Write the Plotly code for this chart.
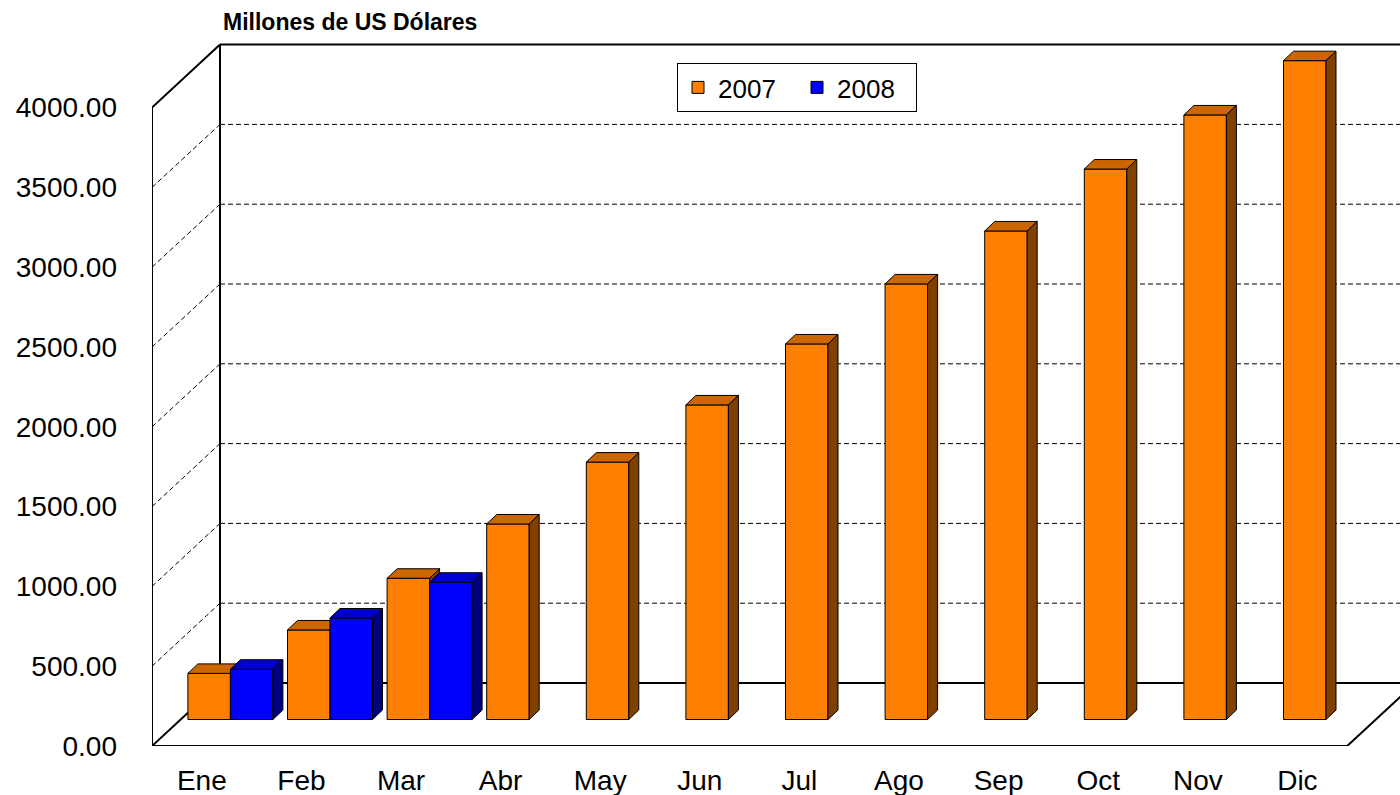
import plotly.graph_objects as go

# ---------------- data ----------------
months = ["Ene", "Feb", "Mar", "Abr", "May", "Jun", "Jul", "Ago", "Sep", "Oct", "Nov", "Dic"]
v2007 = [289, 561, 885, 1225, 1613, 1971, 2353, 2729, 3061, 3449, 3788, 4128]
v2008 = [315, 636, 860]
series_names = ["2007", "2008"]
y_ticks = [0, 500, 1000, 1500, 2000, 2500, 3000, 3500, 4000]
y_ticktext = [f"{v:.2f}" for v in y_ticks]
y_title = "Millones de US Dólares"

# ---------------- geometry (pseudo-3D, oblique projection) ----------------
W, H = 1400, 795
L, B = 152, 49
PX_X = 99.6          # pixels per category
PX_Y = 0.1596        # pixels per value unit
plot_w = W - L
plot_h = H - B
x_range = [-0.5, -0.5 + plot_w / PX_X]
y_range = [0, plot_h / PX_Y]

DX, DY = 68 / PX_X, 63 / PX_Y          # full depth of the floor / walls
BX, BY = 28.6 / PX_X, 26.5 / PX_Y      # plane of the bars' front faces
BW = 42.5 / PX_X                       # bar width
SDX, SDY = 10 / PX_X, 9.5 / PX_Y       # bar depth
YMAX = y_ticks[-1]
n = len(months)

col = {
    "2007": ("#FF8000", "#CC6600", "#804000"),
    "2008": ("#0000FF", "#0000CC", "#000080"),
}


def faces(lefts, values, clip_tops=None):
    tx, ty, sx, sy = [], [], [], []
    for k, (xl, v) in enumerate(zip(lefts, values)):
        xr = xl + BW
        t = BY + v
        tx += [xl, xr, xr + SDX, xl + SDX, xl, None]
        ty += [t, t, t + SDY, t + SDY, t, None]
        low = BY
        if clip_tops is not None and k < len(clip_tops) and clip_tops[k] is not None:
            low = BY + clip_tops[k]
            if low >= t:
                continue
        sx += [xr, xr, xr + SDX, xr + SDX, xr, None]
        sy += [low, t, t + SDY, low + SDY, low, None]
    return tx, ty, sx, sy


fig = go.Figure()

# 2007 bars (front faces) on base axes
left07 = [i + BX - BW for i in range(n)]
fig.add_trace(go.Bar(
    x=[xl + BW / 2 for xl in left07], y=v2007, base=BY, width=BW,
    name=series_names[0], marker=dict(color=col["2007"][0], line=dict(color="black", width=1)),
    xaxis="x", yaxis="y"))
tx, ty, sx, sy = faces(left07, v2007, clip_tops=v2008)
fig.add_trace(go.Scatter(x=tx, y=ty, fill="toself", fillcolor=col["2007"][1], mode="lines",
                         line=dict(color="black", width=1), showlegend=False, hoverinfo="skip"))
fig.add_trace(go.Scatter(x=sx, y=sy, fill="toself", fillcolor=col["2007"][2], mode="lines",
                         line=dict(color="black", width=1), showlegend=False, hoverinfo="skip"))

# 2008 bars on overlaying axes (drawn in front)
left08 = [i + BX for i in range(len(v2008))]
fig.add_trace(go.Bar(
    x=[xl + BW / 2 for xl in left08], y=v2008, base=BY, width=BW,
    name=series_names[1], marker=dict(color=col["2008"][0], line=dict(color="black", width=1)),
    xaxis="x2", yaxis="y2"))
tx, ty, sx, sy = faces(left08, v2008)
fig.add_trace(go.Scatter(x=tx, y=ty, fill="toself", fillcolor=col["2008"][1], mode="lines",
                         line=dict(color="black", width=1), showlegend=False, hoverinfo="skip",
                         xaxis="x2", yaxis="y2"))
fig.add_trace(go.Scatter(x=sx, y=sy, fill="toself", fillcolor=col["2008"][2], mode="lines",
                         line=dict(color="black", width=1), showlegend=False, hoverinfo="skip",
                         xaxis="x2", yaxis="y2"))

# ---------------- walls, floor, gridlines ----------------
shapes = []
solid = dict(color="black", width=2)
dash = dict(color="black", width=1, dash="5px,3px")
xl0, xr0 = -0.5, n - 0.5
xend = x_range[1]


def seg(x0, y0, x1, y1, line):
    shapes.append(dict(type="line", xref="x", yref="y", x0=x0, y0=y0, x1=x1, y1=y1,
                       line=line, layer="below"))


for v in y_ticks[1:-1]:
    seg(xl0 + DX, v + DY, xend, v + DY, dash)          # back wall
    seg(xl0, v, xl0 + DX, v + DY, dash)                 # side wall
seg(xl0, 0, xl0, YMAX, solid)
seg(xl0, YMAX, xl0 + DX, YMAX + DY, solid)
seg(xl0, 0, xl0 + DX, DY, solid)
seg(xl0 + DX, DY, xl0 + DX, YMAX + DY, solid)
seg(xl0 + DX, YMAX + DY, xend, YMAX + DY, solid)
seg(xl0 + DX, DY, xend, DY, solid)
seg(xl0, 0, xr0, 0, solid)
seg(xr0, 0, xr0 + DX, DY, solid)

font_family = "Liberation Sans, Arial, sans-serif"

fig.update_layout(
    width=W, height=H, autosize=False,
    margin=dict(l=L, r=0, t=0, b=B),
    paper_bgcolor="white", plot_bgcolor="white",
    barmode="overlay",
    shapes=shapes,
    font=dict(family=font_family, color="black"),
    xaxis=dict(range=x_range, tickmode="array", tickvals=list(range(n)), ticktext=months,
               showgrid=False, zeroline=False, showline=False, ticks="",
               tickfont=dict(size=28), ticklabelstandoff=15, fixedrange=True),
    yaxis=dict(range=y_range, tickmode="array", tickvals=y_ticks, ticktext=y_ticktext,
               showgrid=False, zeroline=False, showline=False, ticks="",
               tickfont=dict(size=28), ticklabelstandoff=34, fixedrange=True),
    xaxis2=dict(range=x_range, overlaying="x", anchor="y2", visible=False),
    yaxis2=dict(range=y_range, overlaying="y", anchor="x2", visible=False),
    legend=dict(orientation="h", x=(677 - L) / plot_w, y=(plot_h - 63) / plot_h,
                xanchor="left", yanchor="top", bgcolor="white",
                bordercolor="black", borderwidth=1, font=dict(size=26),
                entrywidth=74, entrywidthmode="pixels",
                itemclick=False),
    annotations=[dict(text="<b>" + y_title + "</b>", xref="paper", yref="paper",
                      x=(221 - L) / plot_w, y=(plot_h - 22.5) / plot_h,
                      xanchor="left", yanchor="middle", showarrow=False,
                      font=dict(size=23, family=font_family))],
)

fig.write_html("out.html", config={"displayModeBar": False},
               post_script="document.body.style.margin='0';document.body.style.padding='0';")
